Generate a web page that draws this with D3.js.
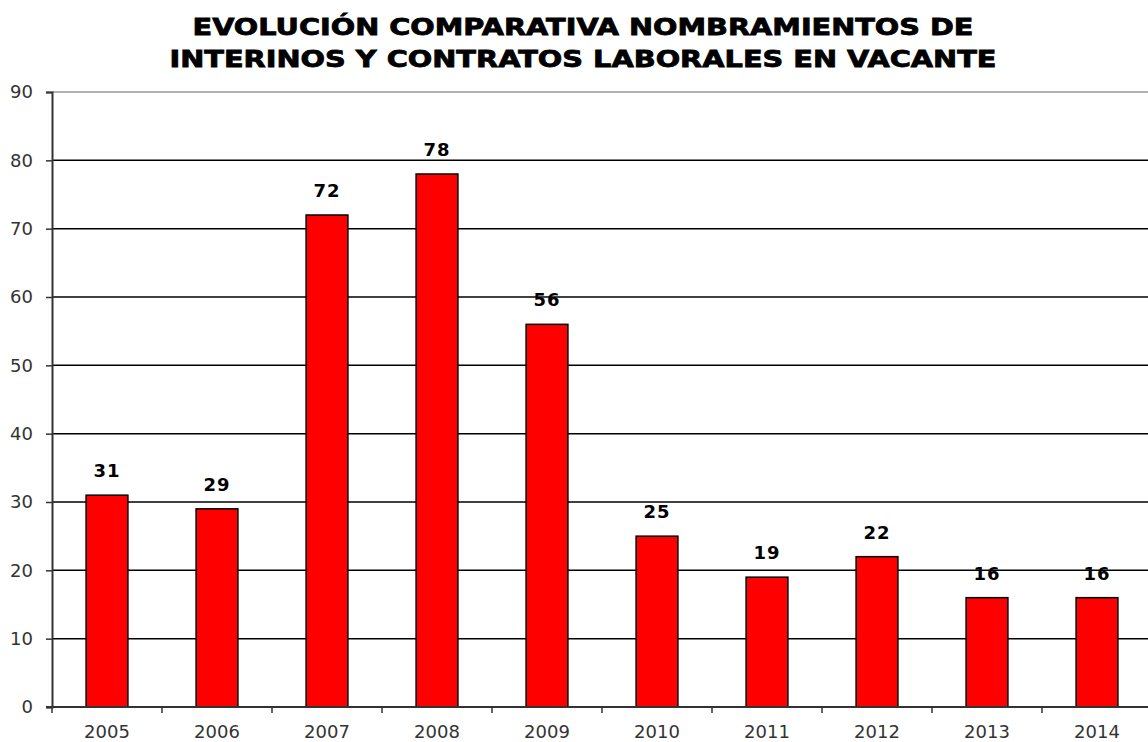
<!DOCTYPE html>
<html>
  <head>
    <meta charset="utf-8">
    <script src="https://d3js.org/d3.v7.min.js"></script>
    <style>
      html, body { margin: 0; padding: 0; background: #fff; }
      svg { display: block; }
    </style>
  </head>
  <body>
    <svg id="chart" width="1148" height="742"></svg>
    <script>
      // data
      var years = ["2005", "2006", "2007", "2008", "2009", "2010", "2011", "2012", "2013", "2014"];
      var values = [31, 29, 72, 78, 56, 25, 19, 22, 16, 16];
      var yTicks = [0, 10, 20, 30, 40, 50, 60, 70, 80, 90];
      var titleLines = ["EVOLUCIÓN COMPARATIVA NOMBRAMIENTOS DE",
                        "INTERINOS Y CONTRATOS LABORALES EN VACANTE"];

      var svg = d3.select("#chart");
      var plotLeft = 52, plotRight = 1152, plotTop = 92, plotBottom = 707;

      var x = d3.scaleBand().domain(years).range([plotLeft, plotRight]).padding(0);
      var y = d3.scaleLinear().domain([0, 90]).range([plotBottom, plotTop]);
      var barW = x.bandwidth() * 0.38;

      // title
      var titleW = [781, 827];
      svg.selectAll("text.title")
        .data(titleLines)
        .enter()
        .append("text")
        .attr("class", "title")
        .attr("x", 583)
        .attr("y", (d, i) => 35 + i * 32)
        .attr("text-anchor", "middle")
        .attr("textLength", (d, i) => titleW[i])
        .attr("lengthAdjust", "spacingAndGlyphs")
        .style("font-family", "'DejaVu Sans', sans-serif")
        .style("font-weight", "bold")
        .style("font-size", "23px")
        .style("fill", "#000")
        .style("stroke", "#000")
        .style("stroke-width", 0.8)
        .text(d => d);

      // gridlines
      svg.selectAll("line.grid")
        .data(yTicks.filter(d => d > 0))
        .enter()
        .append("line")
        .attr("class", "grid")
        .attr("x1", plotLeft)
        .attr("x2", plotRight)
        .attr("y1", d => y(d))
        .attr("y2", d => y(d))
        .style("stroke", d => d === 90 ? "#999" : "#000")
        .style("stroke-width", 1.5);

      // bars
      svg.selectAll("rect.bar")
        .data(values)
        .enter()
        .append("rect")
        .attr("class", "bar")
        .attr("x", (d, i) => x(years[i]) + (x.bandwidth() - barW) / 2)
        .attr("y", d => y(d))
        .attr("width", barW)
        .attr("height", d => y(0) - y(d))
        .style("fill", "#ff0000")
        .style("stroke", "#000")
        .style("stroke-width", 1.5);

      // value labels
      svg.selectAll("text.val")
        .data(values)
        .enter()
        .append("text")
        .attr("class", "val")
        .attr("x", (d, i) => x(years[i]) + x.bandwidth() / 2)
        .attr("y", d => y(d) - 18)
        .attr("text-anchor", "middle")
        .style("font-family", "'DejaVu Sans', sans-serif")
        .style("font-weight", "bold")
        .style("font-size", "18px")
        .style("letter-spacing", "1px")
        .style("fill", "#000")
        .text(d => d);

      // y axis
      var yAxis = d3.axisLeft(y).tickValues(yTicks).tickSize(6).tickPadding(13);
      var gy = svg.append("g").attr("transform", "translate(" + plotLeft + ",0)").call(yAxis);
      gy.select(".domain").style("stroke", "#333").style("stroke-width", 2);
      gy.selectAll(".tick line").style("stroke", "#333").style("stroke-width", 1.5);
      gy.selectAll(".tick text")
        .style("font-family", "'DejaVu Sans', sans-serif")
        .style("font-size", "18px")
        .style("fill", "#333");

      // x axis: ticks at band boundaries, labels centered
      var gx = svg.append("g").attr("class", "xaxis");
      gx.append("line")
        .attr("x1", plotLeft - 6).attr("x2", plotRight)
        .attr("y1", plotBottom).attr("y2", plotBottom)
        .style("stroke", "#333").style("stroke-width", 2);
      gx.selectAll("line.xt")
        .data(years)
        .enter()
        .append("line")
        .attr("class", "xt")
        .attr("x1", d => x(d))
        .attr("x2", d => x(d))
        .attr("y1", plotBottom)
        .attr("y2", plotBottom + 6)
        .style("stroke", "#333").style("stroke-width", 1.5);
      gx.selectAll("text")
        .data(years)
        .enter()
        .append("text")
        .attr("x", d => x(d) + x.bandwidth() / 2)
        .attr("y", 738)
        .attr("text-anchor", "middle")
        .style("font-family", "'DejaVu Sans', sans-serif")
        .style("font-size", "18px")
        .style("fill", "#333")
        .text(d => d);
    </script>
  </body>
</html>
